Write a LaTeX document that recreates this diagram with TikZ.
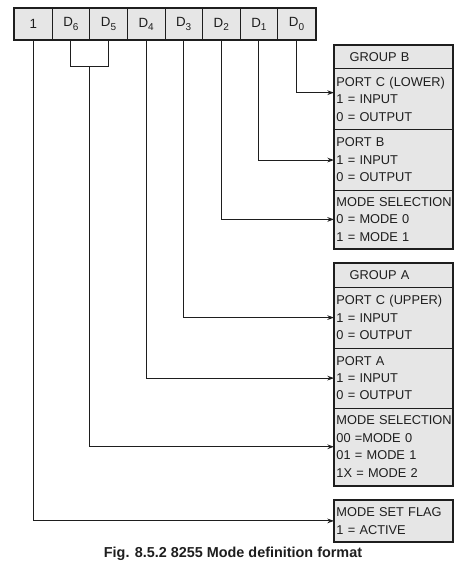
\documentclass[tikz,border=0pt]{standalone}
\usepackage{fontspec}
\setmainfont{Liberation Sans}
\usetikzlibrary{calc,arrows.meta}
\definecolor{boxgray}{HTML}{E6E6E6}
\definecolor{ink}{HTML}{1E1E1E}
\newcommand\sbs[1]{\raisebox{-0.45ex}{\fontsize{7.5}{7.5}\selectfont #1}}
\begin{document}
\begin{tikzpicture}[x=0.75pt,y=-0.75pt,
 cell/.style={draw=ink, line width=0.6pt, fill=boxgray, minimum width=28.2pt, minimum height=24pt, inner sep=0pt, text=ink, font=\fontsize{10}{11}\selectfont},
 sec/.style={draw=ink, line width=0.6pt, fill=boxgray, anchor=north west, inner xsep=1.5pt, inner ysep=0pt, text width=86pt, align=left, text=ink, font=\fontsize{9.6}{13.1}\selectfont},
 outer/.style={draw=ink, line width=1.5pt},
 arr/.style={draw=ink, line width=0.75pt, -{Stealth[length=5pt,width=3.5pt]}},
 wire/.style={draw=ink, line width=0.75pt}
]
\fill[white] (0,0) rectangle (474,576);
\useasboundingbox (0,0) rectangle (474,576);

% register
\node[cell] (b7) at (33.3,24) {1};
\node[cell] (b6) at (70.9,24) {D\sbs{6}};
\node[cell] (b5) at (108.5,24) {D\sbs{5}};
\node[cell] (b4) at (146.1,24) {D\sbs{4}};
\node[cell] (b3) at (183.7,24) {D\sbs{3}};
\node[cell] (b2) at (221.3,24) {D\sbs{2}};
\node[cell] (b1) at (258.9,24) {D\sbs{1}};
\node[cell] (b0) at (296.5,24) {D\sbs{0}};
\draw[outer] (b7.north west) rectangle (b0.south east);

% group B
\node[sec, minimum height=17.25pt] (gbt) at (334,45) {\hspace*{10pt}GROUP B};
\node[sec, minimum height=46pt] (pcl) at (334,68) {PORT C (LOWER)\\1 = INPUT\\0 = OUTPUT};
\node[sec, minimum height=45.5pt] (pb) at (334,129.3) {PORT B\\1 = INPUT\\0 = OUTPUT};
\node[sec, minimum height=43.5pt] (msb) at (334,190) {\mbox{MODE SELECTION}\\0 = MODE 0\\1 = MODE 1};
\draw[outer] (gbt.north west) rectangle (msb.south east);

% group A
\node[sec, minimum height=17.5pt] (gat) at (334,263.3) {\hspace*{10pt}GROUP A};
\node[sec, minimum height=45.75pt] (pcu) at (334,286.7) {PORT C (UPPER)\\1 = INPUT\\0 = OUTPUT};
\node[sec, minimum height=45pt] (pa) at (334,347.7) {PORT A\\1 = INPUT\\0 = OUTPUT};
\node[sec, minimum height=58pt] (msa) at (334,407.7) {\mbox{MODE SELECTION}\\00 =MODE 0\\01 = MODE 1\\1X = MODE 2};
\draw[outer] (gat.north west) rectangle (msa.south east);

% mode set flag
\node[sec, minimum height=30.75pt, draw=none] (flag) at (334,500) {MODE SET FLAG\\1 = ACTIVE};
\draw[outer] (flag.north west) rectangle (flag.south east);

% connectors
\draw[arr] (b0.south) |- ([yshift=4.8pt]pcl.west);
\draw[arr] (b1.south) |- (pb.west);
\draw[arr] (b2.south) |- (msb.west);
\draw[arr] (b3.south) |- (pcu.west);
\draw[arr] (b4.south) |- (pa.west);
\coordinate (lev) at (0,66);
\draw[wire] (b6.south) -- (b6.south |- lev) -- (b5.south |- lev) -- (b5.south);
\coordinate (br) at ($(b6.south |- lev)!0.5!(b5.south |- lev)$);
\draw[arr] (br) |- (msa.west);
\draw[arr] (b7.south) |- (flag.west);

% caption
\node[font=\bfseries\fontsize{10.8}{12}\selectfont, text=ink] (cap) at (233,554) {Fig. 8.5.2 8255 Mode definition format};
\end{tikzpicture}
\end{document}
